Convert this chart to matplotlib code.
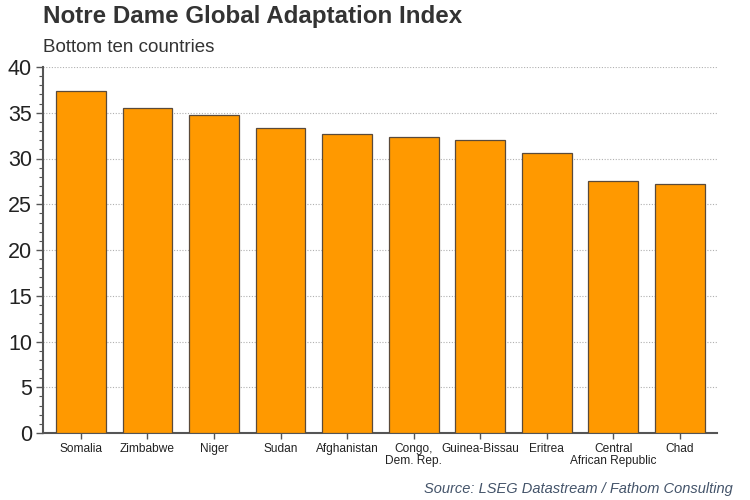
import matplotlib
matplotlib.use("Agg")
import matplotlib.pyplot as plt
from matplotlib.ticker import MultipleLocator

countries = ["Somalia", "Zimbabwe", "Niger", "Sudan", "Afghanistan",
             "Congo,\nDem. Rep.", "Guinea-Bissau", "Eritrea",
             "Central\nAfrican Republic", "Chad"]
values = [37.4, 35.5, 34.8, 33.3, 32.7, 32.4, 32.0, 30.6, 27.5, 27.2]
yticks = [0, 5, 10, 15, 20, 25, 30, 35, 40]

plt.rcParams['font.family'] = ['Liberation Sans', 'DejaVu Sans']

fig = plt.figure(figsize=(7.5, 5), dpi=100)
ax = fig.add_axes([43/750, 1-433/500, (717-43)/750, (433-67)/500])

x = list(range(len(countries)))
ax.bar(x, values, width=0.75, color="#FF9900", edgecolor="#5a4a3a", linewidth=0.9, zorder=3)

ax.set_xlim(-0.57, 9.56)
ax.set_ylim(0, 40)
ax.set_yticks(yticks)
ax.yaxis.set_minor_locator(MultipleLocator(1))
ax.set_xticks(x)
ax.set_xticklabels(countries, fontsize=8.6, color="#222222", linespacing=1.05)
ax.tick_params(axis='y', labelsize=15.5, colors="#555555", labelcolor="#222222", length=5, width=1, pad=3)
ax.tick_params(axis='y', which='minor', length=3, width=0.8, colors="#555555")
ax.tick_params(axis='x', length=4, width=1, colors="#555555", labelcolor="#222222", pad=3)

ax.grid(axis='y', color="#b0b0b0", linestyle=(0, (1, 1.5)), linewidth=0.8, zorder=0)
for s in ["top", "right"]:
    ax.spines[s].set_visible(False)
for s in ["left", "bottom"]:
    ax.spines[s].set_color("#555555")
    ax.spines[s].set_linewidth(1.5)

fig.text(43/750, 1-17/500, "Notre Dame Global Adaptation Index", fontsize=17.4, fontweight='bold',
         color="#333333", va='center', ha='left')
fig.text(43/750, 1-47/500, "Bottom ten countries", fontsize=13.5, color="#333333", va='center', ha='left')
fig.text(733/750, 1-489/500, "Source: LSEG Datastream / Fathom Consulting", fontsize=10.5,
         style='italic', color="#44546a", va='center', ha='right')

fig.savefig("out.png", dpi=100)
